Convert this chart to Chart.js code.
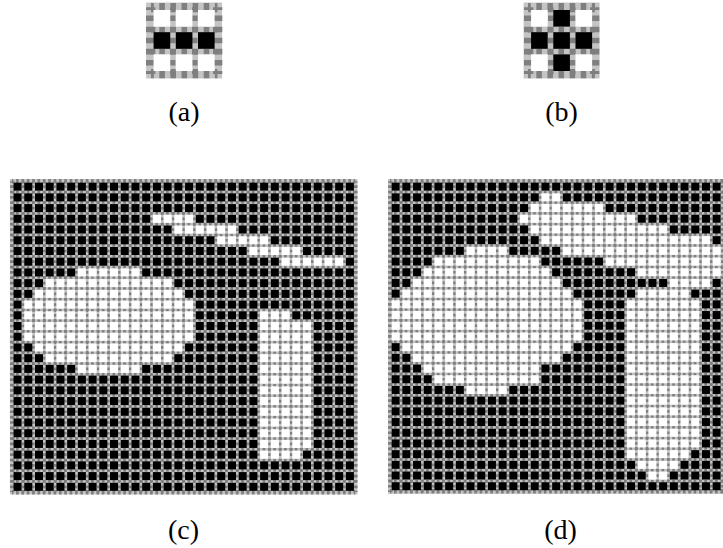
<!DOCTYPE html>
<html>
<head>
<meta charset="utf-8">
<script src="https://cdn.jsdelivr.net/npm/chart.js@4.4.1/dist/chart.umd.min.js"></script>
<style>
  html, body { margin: 0; padding: 0; background: #fff; overflow: hidden; }
  #page { position: relative; width: 723px; height: 548px; overflow: hidden; background: #fff; }
  #page canvas { position: absolute; }
  .caption {
    position: absolute;
    font-family: "Liberation Serif", "Times New Roman", serif;
    font-size: 28px;
    line-height: 1;
    color: #000;
    white-space: nowrap;
    transform: translate(-50%, -50%);
  }
</style>
</head>
<body>
<div id="page"></div>
<script>
// structuring elements: black cells as [row, col]
const elementA = [[1, 0], [1, 1], [1, 2]];
const elementB = [[0, 1], [1, 0], [1, 1], [1, 2], [2, 1]];

// binary images: white runs per row as [firstCol, lastCol]
const imageCols = 32;
const imageRows = 29;

const whiteRunsC = [
  [], [], [],
  [[13, 16]],
  [[15, 20]],
  [[19, 23]],
  [[22, 26]],
  [[25, 30]],
  [[6, 11]],
  [[3, 14]],
  [[2, 15]],
  [[1, 16]],
  [[1, 16], [23, 25]],
  [[1, 16], [23, 27]],
  [[1, 16], [23, 27]],
  [[2, 15], [23, 27]],
  [[3, 14], [23, 27]],
  [[6, 11], [23, 27]],
  [[23, 27]],
  [[23, 27]],
  [[23, 27]],
  [[23, 27]],
  [[23, 27]],
  [[23, 27]],
  [[23, 27]],
  [[23, 26]],
  [], [], [],
];

const whiteRunsD = [
  [],
  [[14, 15]],
  [[13, 19]],
  [[12, 22]],
  [[13, 25]],
  [[14, 29]],
  [[7, 10], [16, 30]],
  [[4, 13], [20, 30]],
  [[3, 14], [23, 30]],
  [[2, 15], [26, 29]],
  [[1, 16], [23, 27]],
  [[0, 17], [22, 28]],
  [[0, 17], [22, 28]],
  [[0, 17], [22, 28]],
  [[0, 17], [22, 28]],
  [[1, 16], [22, 28]],
  [[2, 15], [22, 28]],
  [[3, 13], [22, 28]],
  [[4, 13], [22, 28]],
  [[7, 10], [22, 28]],
  [[22, 28]],
  [[22, 28]],
  [[22, 28]],
  [[22, 28]],
  [[22, 28]],
  [[22, 27]],
  [[23, 26]],
  [[24, 25]],
  [],
];

const captions = ['(a)', '(b)', '(c)', '(d)'];

const FILL = 0.75;          // share of a cell covered by its square
const DARK = '#7f7f7f';
const LIGHT = '#c4c4c4';

const page = document.getElementById('page');

const cellsFromElement = (blackCells, cols, rows) => {
  const black = [];
  const white = [];
  for (let r = 0; r < rows; r++) {
    for (let c = 0; c < cols; c++) {
      const on = blackCells.some(([br, bc]) => br === r && bc === c);
      (on ? black : white).push({ x: c, y: r });
    }
  }
  return { black, white };
};

const cellsFromRuns = (runs, cols, rows) => {
  const black = [];
  const white = [];
  for (let r = 0; r < rows; r++) {
    for (let c = 0; c < cols; c++) {
      const on = (runs[r] || []).some(([a, b]) => c >= a && c <= b);
      (on ? white : black).push({ x: c, y: r });
    }
  }
  return { black, white };
};

// light backing under the dashed grid
const cellBackground = {
  id: 'cellBackground',
  beforeDraw(chart, args, opts) {
    const { ctx, chartArea: a } = chart;
    const m = opts.margin || 0;
    ctx.save();
    ctx.fillStyle = LIGHT;
    ctx.fillRect(a.left - m, a.top - m, a.width + 2 * m, a.height + 2 * m);
    ctx.restore();
  },
};

const axis = (count, reverse, cell) => {
  const lines = Array.from({ length: count + 1 }, (_, i) => i - 0.5);
  return {
    type: 'linear',
    min: -0.5,
    max: count - 0.5,
    reverse,
    afterBuildTicks: (scale) => {
      scale.ticks = lines.map((v) => ({ value: v }));
    },
    ticks: { display: false },
    grid: {
      color: DARK,
      drawTicks: false,
      lineWidth: (ctx) => (ctx.index === 0 || ctx.index === count ? cell * 0.42 : cell * (1 - FILL)),
    },
    border: { display: false, dash: [cell / 4, cell / 4], dashOffset: cell / 8 },
  };
};

const squareRadius = (ctx) => {
  const xs = ctx.chart.scales.x;
  const cell = Math.abs(xs.getPixelForValue(1) - xs.getPixelForValue(0));
  return (cell * FILL) / Math.SQRT2;
};

const renderPanel = (panel, cells) => {
  const pad = Math.ceil(panel.cell * 0.3) + 2;
  const w = panel.cols * panel.cell;
  const h = panel.rows * panel.cell;
  const cx = Math.floor(panel.left - pad);
  const cy = Math.floor(panel.top - pad);
  const cw = Math.ceil(panel.left + w + pad) - cx;
  const ch = Math.ceil(panel.top + h + pad) - cy;

  const canvas = document.createElement('canvas');
  canvas.width = cw;
  canvas.height = ch;
  canvas.style.left = cx + 'px';
  canvas.style.top = cy + 'px';
  page.appendChild(canvas);

  const squares = {
    pointStyle: 'rect',
    pointRadius: squareRadius,
    pointBorderWidth: 0,
    clip: false,
  };

  new Chart(canvas, {
    type: 'scatter',
    data: {
      datasets: [
        { data: cells.white, backgroundColor: '#ffffff', ...squares },
        { data: cells.black, backgroundColor: '#000000', ...squares },
      ],
    },
    options: {
      responsive: false,
      animation: false,
      events: [],
      layout: {
        padding: {
          left: panel.left - cx,
          top: panel.top - cy,
          right: cx + cw - (panel.left + w),
          bottom: cy + ch - (panel.top + h),
        },
      },
      plugins: {
        legend: { display: false },
        tooltip: { enabled: false },
        cellBackground: { margin: panel.cell * 0.21 },
      },
      scales: {
        x: axis(panel.cols, false, panel.cell),
        y: axis(panel.rows, true, panel.cell),
      },
    },
    plugins: [cellBackground],
  });
};

const addCaption = (text, x, y) => {
  const el = document.createElement('div');
  el.className = 'caption';
  el.textContent = text;
  el.style.left = x + 'px';
  el.style.top = y + 'px';
  page.appendChild(el);
};

const panels = [
  { left: 150.8, top: 7.2, cell: 22.2, cols: 3, rows: 3 },
  { left: 528.3, top: 7.2, cell: 22.2, cols: 3, rows: 3 },
  { left: 12.2, top: 181.3, cell: 10.72, cols: imageCols, rows: imageRows },
  { left: 390.3, top: 181.3, cell: 10.7, cols: imageCols, rows: imageRows },
];

renderPanel(panels[0], cellsFromElement(elementA, 3, 3));
renderPanel(panels[1], cellsFromElement(elementB, 3, 3));
renderPanel(panels[2], cellsFromRuns(whiteRunsC, imageCols, imageRows));
renderPanel(panels[3], cellsFromRuns(whiteRunsD, imageCols, imageRows));

addCaption(captions[0], 184, 112.2);
addCaption(captions[1], 561.5, 112.2);
addCaption(captions[2], 183.5, 529.7);
addCaption(captions[3], 560.5, 529.7);
</script>
</body>
</html>
